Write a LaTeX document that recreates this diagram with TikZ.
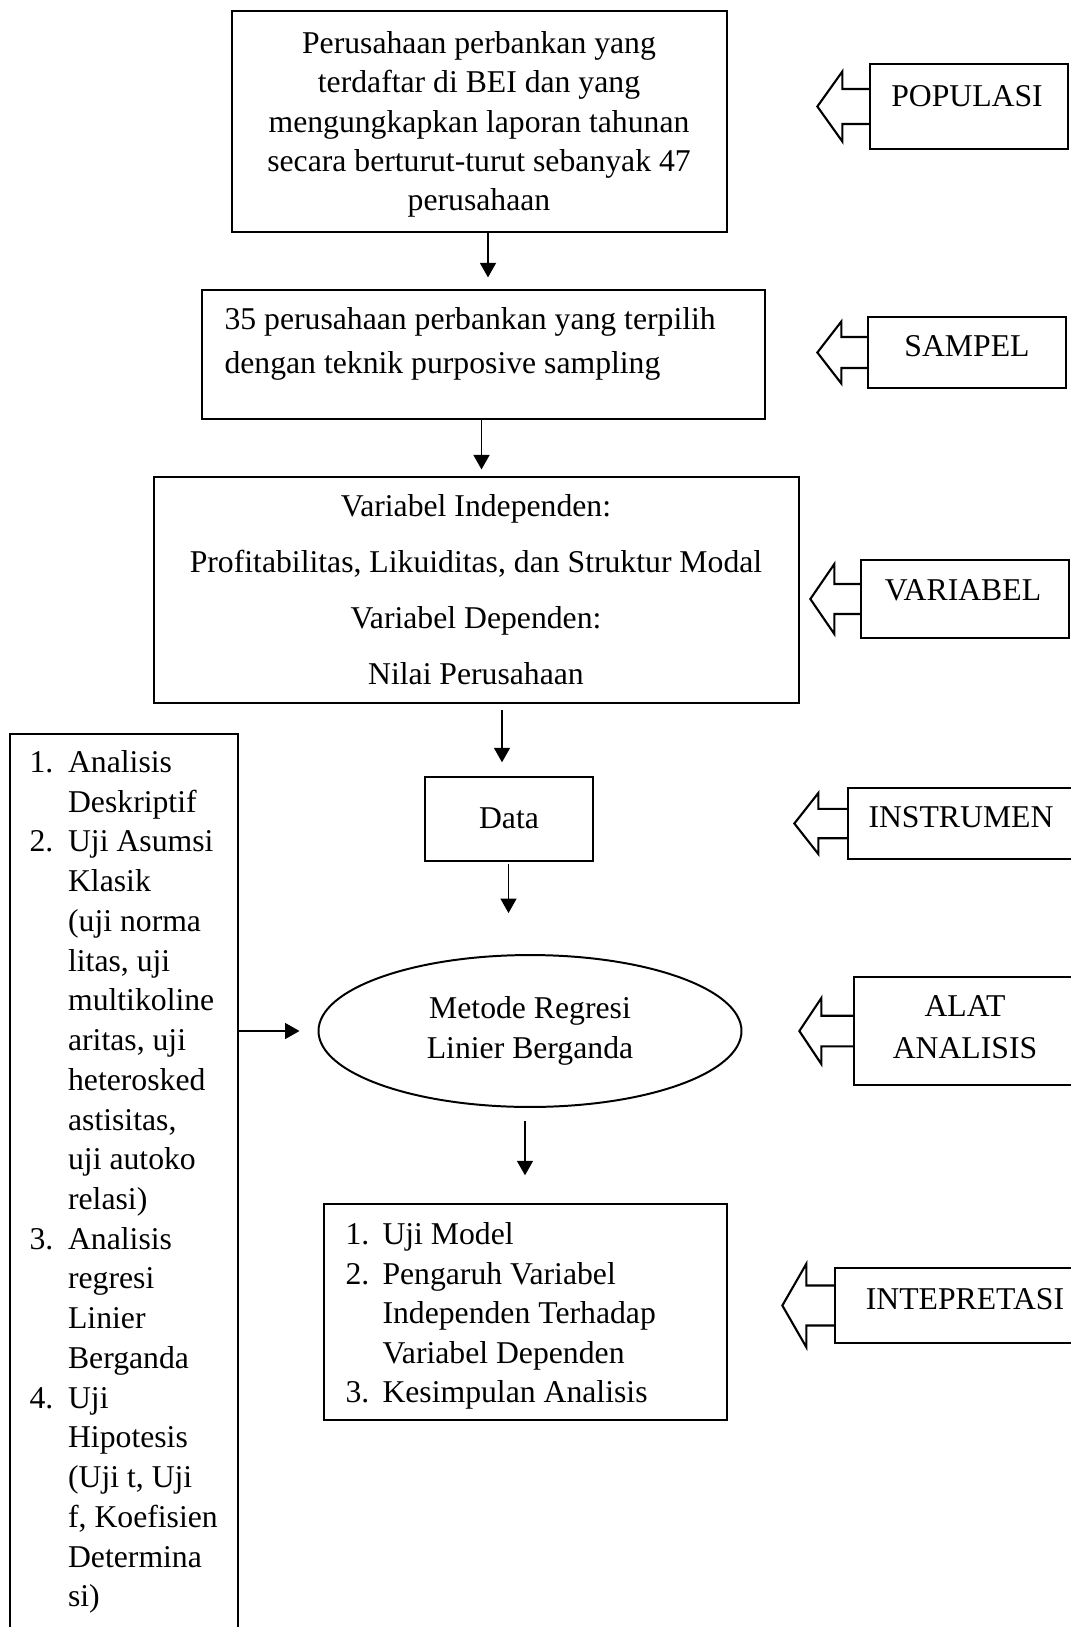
\documentclass[tikz,border=0pt]{standalone}
\usepackage{fontspec}
\setmainfont{Liberation Serif}
\usetikzlibrary{arrows.meta,shapes.geometric,fit}
\newcommand{\hollowarr}[5]{\draw[hollow] (#1.west) ++(0,-#4) -- ++(-#2,0) -- ++(0,#4-#5) -- ++(-#3,#5) -- ++(#3,#5) -- ++(0,#4-#5) -- ++(#2,0);}
\newcommand{\lnum}[1]{\makebox[14.6pt][l]{#1}}
\newcommand{\lind}{\hspace*{14.6pt}}
\newcommand{\rnum}[1]{\makebox[14pt][l]{#1}}
\newcommand{\rind}{\hspace*{14pt}}
\begin{document}
\begin{tikzpicture}[x=0.3785pt,y=-0.3785pt,
  box/.style={draw,line width=0.5pt,inner sep=0pt},
  txt/.style={inner sep=0pt,font=\fontsize{12pt}{14.8pt}\selectfont},
  conn/.style={line width=0.75pt,-{Triangle[length=5.5pt,width=6pt]}},
  hollow/.style={line width=0.8pt,line join=miter}]
\clip (0,0) rectangle (1071,1627);
\fill[white] (0,0) rectangle (1071,1627);

% main column boxes
\node[box, fit={(232,11) (727,232)}] (pop) {};
\node[txt, align=center, font=\fontsize{12pt}{14.9pt}\selectfont] (poptext) at (479,124.5)
  {Perusahaan perbankan yang\\terdaftar di BEI dan yang\\mengungkapkan laporan tahunan\\secara berturut-turut sebanyak 47\\perusahaan};

\node[box, fit={(202,290) (765,419)}] (smp) {};
\node[txt, align=left, anchor=west, font=\fontsize{12pt}{16.5pt}\selectfont] (smptext) at (224,344)
  {35 perusahaan perbankan yang terpilih\\dengan teknik purposive sampling};

\node[box, fit={(154,477) (799,703)}] (var) {};
\node[txt, align=center, font=\fontsize{12pt}{21.2pt}\selectfont] (vartext) at (476,590)
  {Variabel Independen:\\Profitabilitas, Likuiditas, dan Struktur Modal\\Variabel Dependen:\\Nilai Perusahaan};

\node[box, fit={(425,777) (593,861)}] (data) {};
\node[txt] (datatext) at (509,818) {Data};

\node[draw, ellipse, line width=0.75pt, inner sep=0pt, minimum width=160.1pt, minimum height=57.5pt,
  align=center, font=\fontsize{12pt}{15.1pt}\selectfont] (ell) at (530,1031)
  {Metode Regresi\\Linier Berganda};

\node[box, fit={(324,1204) (727,1420)}] (res) {};
\node[txt, align=left, anchor=west, font=\fontsize{12pt}{14.95pt}\selectfont] (restext) at (345,1316)
  {\rnum{1.}Uji Model\\\rnum{2.}Pengaruh Variabel\\\rind Independen Terhadap\\\rind Variabel Dependen\\\rnum{3.}Kesimpulan Analisis};

% left list box
\node[box, fit={(10,734) (238,1660)}] (list) {};
\node[txt, align=left, anchor=west, font=\fontsize{12pt}{15.04pt}\selectfont] (listtext) at (29,1182)
  {\lnum{1.}Analisis\\\lind Deskriptif\\\lnum{2.}Uji Asumsi\\\lind Klasik\\\lind (uji norma\\\lind litas, uji\\\lind multikoline\\\lind aritas, uji\\\lind heterosked\\\lind astisitas,\\\lind uji autoko\\\lind relasi)\\\lnum{3.}Analisis\\\lind regresi\\\lind Linier\\\lind Berganda\\\lnum{4.}Uji\\\lind Hipotesis\\\lind (Uji t, Uji\\\lind f, Koefisien\\\lind Determina\\\lind si)};

% right labels
\node[box, fit={(870,64) (1068,149)}] (lpop) {};
\node[txt] (lpoptext) at (967,96) {POPULASI};
\node[box, fit={(868,317) (1066,388)}] (lsmp) {};
\node[txt] (lsmptext) at (967,346) {SAMPEL};
\node[box, fit={(861,560) (1069,638)}] (lvar) {};
\node[txt] (lvartext) at (963,590) {VARIABEL};
\node[box, fit={(848,788) (1090,859)}] (lins) {};
\node[txt] (linstext) at (961,817) {INSTRUMEN};
\node[box, fit={(854,977) (1090,1085)}] (lalat) {};
\node[txt, align=center, font=\fontsize{12pt}{15.9pt}\selectfont] (lalattext) at (965,1027) {ALAT\\ANALISIS};
\node[box, fit={(835,1268) (1090,1343)}] (lint) {};
\node[txt] (linttext) at (965,1299) {INTEPRETASI};

% hollow arrows
\hollowarr{lpop}{27}{25}{17.5}{35}
\hollowarr{lsmp}{26}{24}{15.5}{31}
\hollowarr{lvar}{26}{24}{15}{35}
\hollowarr{lins}{29}{24}{14.7}{30.5}
\hollowarr{lalat}{32}{22}{15.3}{33}
\hollowarr{lint}{28}{24}{20}{41.7}

% connectors
\coordinate (x1) at (488,0);
\coordinate (x2) at (481.5,0);
\coordinate (x3) at (502,0);
\coordinate (x4) at (508.5,0);
\coordinate (x5) at (525,0);
\draw[conn, shorten >=4.5pt] (pop.south -| x1) -- (smp.north -| x1);
\draw[conn, shorten >=2.6pt] (smp.south -| x2) -- (var.north -| x2);
\draw[conn, shorten <=2.3pt, shorten >=5.3pt] (var.south -| x3) -- (data.north -| x3);
\draw[conn, shorten <=0.8pt, shorten >=15.5pt] (data.south -| x4) -- (ell.north -| x4);
\draw[conn, shorten <=5pt, shorten >=10.6pt] (ell.south -| x5) -- (res.north -| x5);
\draw[conn, shorten >=6.8pt] (list.east |- ell.west) -- (ell.west);
\end{tikzpicture}
\end{document}
